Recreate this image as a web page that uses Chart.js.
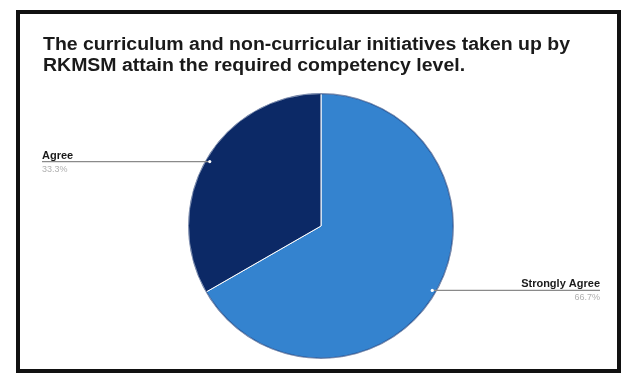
<!DOCTYPE html>
<html>
<head>
<meta charset="utf-8">
<script src="https://cdn.jsdelivr.net/npm/chart.js@4/dist/chart.umd.min.js"></script>
<style>
  html, body { margin: 0; padding: 0; background: #ffffff; }
  #wrap { width: 626px; height: 374px; position: relative; }
</style>
</head>
<body>
<div id="wrap"><canvas id="c" width="626" height="374"></canvas></div>
<script>
const titleLines = [
  "The curriculum and non-curricular initiatives taken up by",
  "RKMSM attain the required competency level."
];
const categories = ["Strongly Agree", "Agree"];
const values = [66.7, 33.3];
const valueLabels = ["66.7%", "33.3%"];
const sliceColors = ["#3483cf", "#0c2966"];

const framePlugin = {
  id: 'frame',
  beforeDraw(chart) {
    const ctx = chart.ctx;
    ctx.save();
    ctx.fillStyle = '#ffffff';
    ctx.fillRect(0, 0, chart.width, chart.height);
    ctx.strokeStyle = '#111111';
    ctx.lineWidth = 4;
    ctx.strokeRect(18, 12, 601, 359);
    ctx.restore();
  }
};

const titlePlugin = {
  id: 'titleText',
  afterDraw(chart) {
    const ctx = chart.ctx;
    ctx.save();
    ctx.fillStyle = '#1a1a1a';
    ctx.font = 'bold 17.5px "Liberation Sans", Arial, sans-serif';
    ctx.textBaseline = 'alphabetic';
    ctx.textAlign = 'left';
    const target = 527;
    const w0 = ctx.measureText(titleLines[0]).width;
    const sx = target / w0;
    const ys = [50, 71];
    titleLines.forEach((t, i) => {
      ctx.save();
      ctx.translate(43, ys[i]);
      ctx.scale(sx, 1);
      ctx.fillText(t, 0, 0);
      ctx.restore();
    });
    ctx.restore();
  }
};

const labelPlugin = {
  id: 'sliceLabels',
  afterDatasetsDraw(chart) {
    const ctx = chart.ctx;
    const meta = chart.getDatasetMeta(0);
    ctx.save();
    const a0 = meta.data[0];
    ctx.strokeStyle = 'rgba(20,50,110,0.55)';
    ctx.lineWidth = 1.5;
    ctx.beginPath();
    ctx.arc(a0.x, a0.y, a0.outerRadius - 0.3, 0, Math.PI * 2);
    ctx.stroke();
    meta.data.forEach((arc, i) => {
      const mid = (arc.startAngle + arc.endAngle) / 2;
      const r = arc.outerRadius * 0.97;
      const px = arc.x + Math.cos(mid) * r;
      const py = arc.y + Math.sin(mid) * r;
      const right = Math.cos(mid) >= 0;
      const endX = right ? 600 : 42;
      ctx.strokeStyle = '#8a8a8a';
      ctx.lineWidth = 1.2;
      ctx.beginPath();
      ctx.moveTo(px, py);
      ctx.lineTo(endX, py);
      ctx.stroke();
      ctx.fillStyle = '#ffffff';
      ctx.beginPath();
      ctx.arc(px, py, 1.6, 0, Math.PI * 2);
      ctx.fill();
      ctx.textAlign = right ? 'right' : 'left';
      ctx.textBaseline = 'alphabetic';
      ctx.fillStyle = '#1a1a1a';
      ctx.font = 'bold 11px "Liberation Sans", Arial, sans-serif';
      ctx.fillText(categories[i], endX, py - 3);
      ctx.fillStyle = '#b0b0b0';
      ctx.font = '9px "Liberation Sans", Arial, sans-serif';
      ctx.fillText(valueLabels[i], endX, py + 10);
    });
    ctx.restore();
  }
};

new Chart(document.getElementById('c'), {
  type: 'pie',
  data: {
    labels: categories,
    datasets: [{
      data: values,
      backgroundColor: sliceColors,
      borderColor: '#ffffff',
      borderWidth: 1
    }]
  },
  options: {
    responsive: false,
    animation: false,
    layout: { padding: { top: 93, bottom: 15, left: 188, right: 172 } },
    plugins: {
      legend: { display: false },
      title: { display: false },
      tooltip: { enabled: false }
    }
  },
  plugins: [framePlugin, titlePlugin, labelPlugin]
});
</script>
</body>
</html>
